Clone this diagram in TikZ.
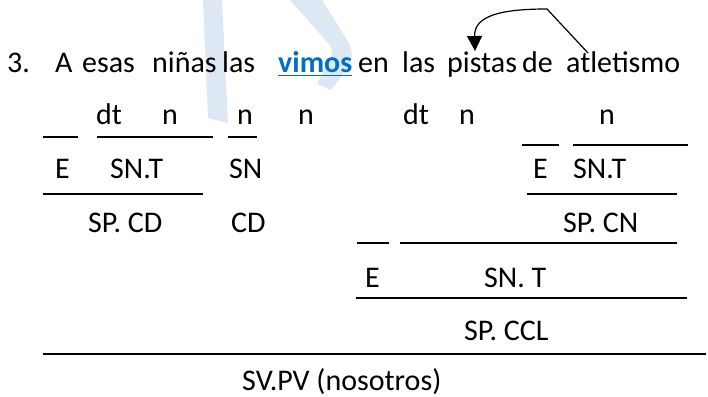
\documentclass[tikz,border=0pt]{standalone}
\usepackage{fontspec}
\setmainfont{Carlito}
\usetikzlibrary{arrows.meta}
\definecolor{wmblue}{HTML}{DEE8F5}
\definecolor{linkblue}{HTML}{0070C0}
\tikzset{
  word/.style={anchor=base west, inner sep=0pt, font=\fontsize{30}{36}\selectfont},
  rule/.style={line width=1.5pt},
}
\begin{document}
\begin{tikzpicture}[x=1pt,y=-1pt]
      \useasboundingbox (0,0) rectangle (708,396);
      \fill[wmblue] (203,0) -- (222,0) -- (228,123) -- (208,118) -- cycle;
      \fill[wmblue] (290,0) -- (322,0) -- (347,40)
        .. controls (353,50) and (353,58) .. (349,66) -- (331,90) -- (317,84)
        -- (331,57) .. controls (333,51) and (332,47) .. (328,43) -- cycle;
      \draw
        (7,72) node[word] (num){3.}
        (55,72) node[word] (a){A}
        (82,72) node[word] (esas){esas}
        (152,72) node[word] (ninas){niñas}
        (222,72) node[word] (las){las}
        (278,72) node[word, text=linkblue, font=\fontsize{30}{36}\selectfont\bfseries] (vimos){vimos}
        (358,72) node[word] (en){en}
        (402,72) node[word] (lasb){las}
        (447,72) node[word] (pistas){pistas}
        (522,72) node[word] (de){de}
        (566,72) node[word] (atletismo){atletismo};
      \draw
        (96,124) node[word] (dta){dt}
        (162,124) node[word] (na){n}
        (237,124) node[word] (nb){n}
        (298,124) node[word] (nc){n}
        (403,124) node[word] (dtb){dt}
        (459,124) node[word] (nd){n}
        (599,124) node[word] (ne){n};
      \draw
        (55,178) node[word] (ea){E}
        (110,178) node[word] (snta){SN.T}
        (229,178) node[word] (sn){SN}
        (533,178) node[word] (eb){E}
        (573,178) node[word] (sntb){SN.T};
      \draw
        (88,232) node[word] (spcd){SP. CD}
        (231,232) node[word] (cd){CD}
        (563,232) node[word] (spcn){SP. CN};
      \draw
        (365,287) node[word] (ec){E}
        (484,287) node[word] (sntc){SN. T};
      \draw
        (464,340) node[word] (spccl){SP. CCL}
        (242,390) node[word] (svpv){SV.PV (nosotros)};
      \draw[linkblue, line width=1.5pt] ([yshift=-3.5pt]vimos.base west) -- ([yshift=-3.5pt]vimos.base east);
      \draw[rule] (43,137) -- (78,137);
      \draw[rule] (97,137) -- (213,137);
      \draw[rule] (228,137) -- (257,137);
      \draw[rule] (522,145) -- (559,145);
      \draw[rule] (573,145) -- (688,145);
      \draw[rule] (43,194) -- (203,194);
      \draw[rule] (527,194) -- (677,194);
      \draw[rule] (357,243) -- (389,243);
      \draw[rule] (400,243) -- (677,243);
      \draw[rule] (356,298) -- (687,298);
      \draw[rule] (43,354) -- (706,354);
      \coordinate (arrfrom) at (588,53);
      \coordinate (arrbend) at (547,9);
      \coordinate (arrtip) at (475,51);
      \draw[line width=1.2pt, -{Triangle[width=15pt,length=15pt]}]
        (arrfrom) -- (arrbend) .. controls (500,9) and (474,16) .. (arrtip);
    \end{tikzpicture}
\end{document}
